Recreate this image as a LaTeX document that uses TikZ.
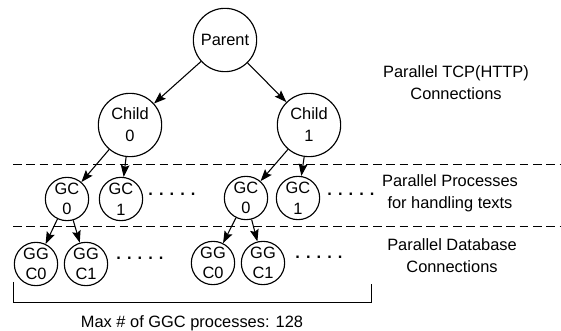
\documentclass[tikz,border=0pt]{standalone}
\usepackage{fontspec}
\setmainfont{Liberation Sans}
\usetikzlibrary{arrows.meta}
\begin{document}
\begin{tikzpicture}[x=0.75pt,y=-0.75pt,
  big/.style={circle,draw,line width=0.85pt,minimum size=47.5pt,inner sep=0pt,align=center,font=\fontsize{12.3}{16.5}\selectfont},
  small/.style={circle,draw,line width=0.85pt,minimum size=32.5pt,inner sep=0pt,align=center,font=\fontsize{12.3}{15.5}\selectfont},
  lbl/.style={align=center,font=\fontsize{12.3}{16.5}\selectfont},
  arr/.style={line width=0.8pt,-{Stealth[length=9pt,width=6.5pt,inset=1.5pt]}},
  sep/.style={line width=0.75pt,dash pattern=on 6.5pt off 3.5pt},
  dotrow/.style={font=\fontsize{12.3}{15}\selectfont\bfseries,anchor=base,inner sep=0pt}
]
\useasboundingbox (0,0) rectangle (561,331);

% tree nodes
\node[big] (par) at (225,40) {Parent};
\node[big] (c0) at (130,125) {Child\\0};
\node[big] (c1) at (309,125) {Child\\1};
\node[small] (gc00) at (67,199) {GC\\0};
\node[small] (gc01) at (121,199) {GC\\1};
\node[small] (gc10) at (246,198) {GC\\0};
\node[small] (gc11) at (298,198) {GC\\1};
\node[small] (g0) at (36,264) {GG\\C0};
\node[small] (g1) at (86,264) {GG\\C1};
\node[small] (g2) at (213,263) {GG\\C0};
\node[small] (g3) at (263,263) {GG\\C1};

% dots
\node[dotrow] (d1) at (172,195.5) {. . . . .};
\node[dotrow] (d2) at (351,195.5) {. . . . .};
\node[dotrow] (d3) at (140,259.5) {. . . . .};
\node[dotrow] (d4) at (319,258.5) {. . . . .};

% arrows
\draw[arr] (par) -- (c0);
\draw[arr] (par) -- (c1);
\draw[arr] (c0) -- (gc00);
\draw[arr] (c0) -- (gc01);
\draw[arr] (c1) -- (gc10);
\draw[arr] (c1) -- (gc11);
\draw[arr] (gc00) -- (g0);
\draw[arr] (gc00) -- (g1);
\draw[arr] (gc10) -- (g2);
\draw[arr] (gc10) -- (g3);

% separators
\coordinate (s1a) at (13,165);
\coordinate (s1b) at (561,165);
\coordinate (s2a) at (13,227);
\coordinate (s2b) at (561,227);
\draw[sep] (s1a) -- (s1b);
\draw[sep] (s2a) -- (s2b);

% bracket
\coordinate (b1) at (13,282);
\coordinate (b2) at (13,303);
\coordinate (b3) at (371,303);
\coordinate (b4) at (371,284);
\draw[line width=0.75pt] (b1) -- (b2) -- (b3) -- (b4);

% labels
\node[lbl] (t1) at (456,83) {Parallel TCP(HTTP)\\Connections};
\node[lbl] (t2) at (450,193) {Parallel Processes\\for handling texts};
\node[lbl] (t3) at (452,256) {Parallel Database\\Connections};
\node[lbl] (t4) at (192,323) {Max \# of GGC processes: 128};
\end{tikzpicture}
\end{document}
